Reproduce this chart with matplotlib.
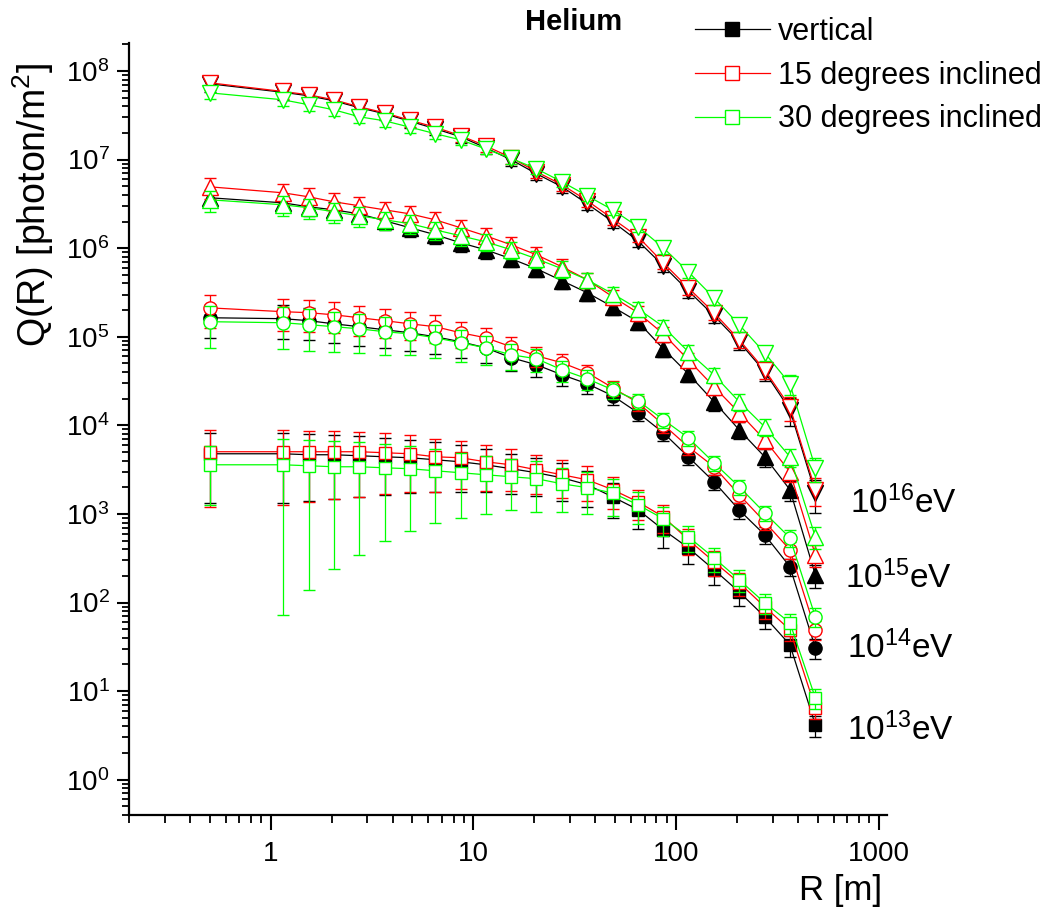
"""Helium: photon density Q(R) vs core distance R for vertical and inclined showers."""

import matplotlib
matplotlib.use("Agg")
import matplotlib.font_manager as fm
import matplotlib.pyplot as plt
from matplotlib.lines import Line2D
from matplotlib.ticker import FixedLocator, LogLocator, NullFormatter

NARROW = "Liberation Sans Narrow"
if NARROW not in {f.name for f in fm.fontManager.ttflist}:
    NARROW = "Liberation Sans"

plt.rcParams["font.family"] = ["Liberation Sans", "DejaVu Sans"]

# core distance R [m]
r_m = [0.5, 1.15, 1.54, 2.05, 2.74, 3.65, 4.87, 6.49, 8.66, 11.5, 15.4, 20.5,
       27.4, 36.5, 48.7, 64.9, 86.6, 115, 154, 205, 274, 365, 487]

# 10^16 eV
q16_vert = [7.17e7, 5.75e7, 5.25e7, 4.61e7, 3.85e7, 3.29e7, 2.71e7, 2.23e7, 1.81e7, 1.36e7, 9.95e6, 6.92e6,
            4.93e6, 3.17e6, 1.99e6, 1.21e6, 6.33e5, 3.31e5, 1.73e5, 8.79e4, 4.03e4, 1.50e4, 1.73e3]
q16_15 = [7.36e7, 5.87e7, 5.39e7, 4.73e7, 3.94e7, 3.37e7, 2.78e7, 2.32e7, 1.86e7, 1.43e7, 1.05e7, 7.28e6,
          5.20e6, 3.43e6, 2.15e6, 1.35e6, 6.84e5, 3.57e5, 1.87e5, 9.25e4, 4.24e4, 1.62e4, 1.88e3]
q16_30 = [5.67e7, 4.73e7, 4.16e7, 3.65e7, 3.04e7, 2.74e7, 2.32e7, 1.96e7, 1.67e7, 1.32e7, 1.03e7, 7.87e6,
          5.61e6, 3.90e6, 2.71e6, 1.75e6, 1.01e6, 5.42e5, 2.75e5, 1.37e5, 6.59e4, 2.95e4, 3.32e3]

# 10^15 eV
q15_vert = [3.71e6, 3.25e6, 2.93e6, 2.71e6, 2.44e6, 2.04e6, 1.70e6, 1.42e6, 1.15e6, 9.59e5, 7.59e5, 5.86e5,
            4.29e5, 3.14e5, 2.18e5, 1.48e5, 7.32e4, 3.82e4, 1.85e4, 8.92e3, 4.42e3, 1.88e3, 206]
q15_15 = [4.93e6, 4.22e6, 3.80e6, 3.34e6, 3.01e6, 2.71e6, 2.44e6, 2.09e6, 1.70e6, 1.38e6, 1.09e6, 8.42e5,
          6.17e5, 4.40e5, 2.83e5, 1.87e5, 1.08e5, 5.50e4, 2.73e4, 1.39e4, 6.88e3, 2.99e3, 347]
q15_30 = [3.52e6, 3.09e6, 2.86e6, 2.58e6, 2.32e6, 2.09e6, 1.89e6, 1.61e6, 1.38e6, 1.18e6, 9.59e5, 7.59e5,
          5.86e5, 4.40e5, 3.06e5, 2.07e5, 1.30e5, 6.78e4, 3.72e4, 1.85e4, 9.64e3, 4.42e3, 553]

# 10^14 eV
q14_vert = [1.64e5, 1.60e5, 1.52e5, 1.40e5, 1.30e5, 1.20e5, 1.11e5, 1.00e5, 8.79e4, 7.51e4, 5.80e4, 4.83e4,
            3.72e4, 2.95e4, 2.16e4, 1.39e4, 8.25e3, 4.42e3, 2.31e3, 1.11e3, 582, 254, 30.9]
q14_15 = [2.12e5, 1.92e5, 1.87e5, 1.77e5, 1.64e5, 1.52e5, 1.40e5, 1.30e5, 1.11e5, 9.75e4, 7.71e4, 6.10e4,
          5.09e4, 3.93e4, 2.66e4, 1.80e4, 1.02e4, 5.73e3, 3.41e3, 1.65e3, 817, 394, 49.3]
q14_30 = [1.48e5, 1.44e5, 1.37e5, 1.30e5, 1.23e5, 1.14e5, 1.08e5, 9.75e4, 8.56e4, 7.51e4, 6.26e4, 5.65e4,
          4.24e4, 3.36e4, 2.52e4, 1.90e4, 1.16e4, 7.25e3, 3.78e3, 2.03e3, 1.03e3, 539, 69.2]

# 10^13 eV
q13_vert = [4.78e3, 4.78e3, 4.66e3, 4.66e3, 4.54e3, 4.42e3, 4.31e3, 4.09e3, 3.88e3, 3.59e3, 3.24e3, 2.92e3,
            2.56e3, 2.14e3, 1.56e3, 1.12e3, 663, 415, 235, 132, 69.2, 33.4, 4.18]
q13_15 = [5.04e3, 5.04e3, 5.04e3, 5.04e3, 5.04e3, 4.91e3, 4.78e3, 4.42e3, 4.31e3, 3.88e3, 3.59e3, 3.15e3,
          2.77e3, 2.43e3, 1.88e3, 1.37e3, 930, 512, 289, 167, 89.7, 49.3, 6.50]
q13_30 = [3.59e3, 3.59e3, 3.50e3, 3.41e3, 3.41e3, 3.32e3, 3.24e3, 3.07e3, 2.92e3, 2.77e3, 2.63e3, 2.50e3,
          2.19e3, 1.98e3, 1.73e3, 1.27e3, 883, 553, 320, 181, 99.5, 59.2, 8.42]

# relative (symmetric) errors, sigma / Q
e16_vert = [0.20, 0.18, 0.18, 0.17, 0.17, 0.16, 0.16, 0.16, 0.15, 0.15, 0.15, 0.15,
            0.15, 0.15, 0.15, 0.15, 0.16, 0.17, 0.18, 0.20, 0.22, 0.35, 0.40]
e16_15 = [0.18, 0.17, 0.17, 0.16, 0.16, 0.15, 0.15, 0.15, 0.14, 0.14, 0.14, 0.14,
          0.14, 0.14, 0.14, 0.14, 0.15, 0.16, 0.17, 0.19, 0.21, 0.30, 0.35]
e16_30 = [0.15, 0.15, 0.15, 0.14, 0.14, 0.14, 0.13, 0.13, 0.13, 0.13, 0.13, 0.13,
          0.13, 0.13, 0.13, 0.13, 0.14, 0.15, 0.16, 0.17, 0.19, 0.25, 0.30]
e15_vert = [0.21, 0.22, 0.22, 0.22, 0.22, 0.22, 0.22, 0.22, 0.21, 0.21, 0.20, 0.20,
            0.20, 0.20, 0.20, 0.20, 0.20, 0.20, 0.21, 0.22, 0.24, 0.26, 0.30]
e15_15 = [0.27, 0.26, 0.26, 0.25, 0.25, 0.24, 0.24, 0.23, 0.23, 0.22, 0.22, 0.21,
          0.21, 0.20, 0.20, 0.20, 0.20, 0.20, 0.20, 0.21, 0.22, 0.24, 0.28]
e15_30 = [0.27, 0.26, 0.26, 0.25, 0.25, 0.24, 0.24, 0.23, 0.23, 0.22, 0.22, 0.21,
          0.21, 0.20, 0.20, 0.20, 0.20, 0.20, 0.20, 0.21, 0.22, 0.24, 0.28]
e14_vert = [0.41, 0.41, 0.40, 0.40, 0.39, 0.38, 0.37, 0.36, 0.34, 0.32, 0.30, 0.28,
            0.26, 0.24, 0.22, 0.20, 0.20, 0.20, 0.20, 0.20, 0.21, 0.22, 0.25]
e14_15 = [0.40, 0.40, 0.39, 0.38, 0.37, 0.36, 0.35, 0.34, 0.32, 0.30, 0.28, 0.26,
          0.24, 0.22, 0.20, 0.19, 0.19, 0.19, 0.19, 0.19, 0.20, 0.21, 0.24]
e14_30 = [0.50, 0.50, 0.49, 0.48, 0.47, 0.45, 0.43, 0.41, 0.39, 0.36, 0.33, 0.30,
          0.27, 0.25, 0.22, 0.20, 0.19, 0.19, 0.19, 0.19, 0.20, 0.21, 0.24]
e13_vert = [0.72, 0.72, 0.70, 0.68, 0.66, 0.63, 0.60, 0.57, 0.54, 0.51, 0.48, 0.46,
            0.45, 0.44, 0.42, 0.40, 0.38, 0.35, 0.33, 0.30, 0.28, 0.27, 0.27]
e13_15 = [0.76, 0.75, 0.73, 0.71, 0.69, 0.66, 0.63, 0.60, 0.56, 0.53, 0.50, 0.47,
          0.45, 0.43, 0.40, 0.37, 0.35, 0.33, 0.31, 0.29, 0.27, 0.26, 0.26]
e13_30 = [0.65, 0.98, 0.96, 0.93, 0.90, 0.85, 0.80, 0.74, 0.69, 0.64, 0.58, 0.58,
          0.52, 0.50, 0.45, 0.40, 0.36, 0.33, 0.30, 0.28, 0.26, 0.25, 0.25]

angle_labels = ["vertical", "15 degrees inclined", "30 degrees inclined"]
energy_labels = ["16", "15", "14", "13"]

COLORS = ["black", "#ff0000", "#00ff00"]
MARKERS = {"16": ("v", 11), "15": ("^", 11), "14": ("o", 9.5), "13": ("s", 8.5)}

series = {
    "16": [(q16_vert, e16_vert), (q16_15, e16_15), (q16_30, e16_30)],
    "15": [(q15_vert, e15_vert), (q15_15, e15_15), (q15_30, e15_30)],
    "14": [(q14_vert, e14_vert), (q14_15, e14_15), (q14_30, e14_30)],
    "13": [(q13_vert, e13_vert), (q13_15, e13_15), (q13_30, e13_30)],
}

W, H = 1044, 913
fig = plt.figure(figsize=(W / 100, H / 100), dpi=100)
ax = fig.add_axes([129 / W, 1 - 815 / H, (887 - 129) / W, (815 - 43) / H])


def fx(px):
    return px / W


def fy(py):
    return 1 - py / H


for i, color in enumerate(COLORS):
    for en in energy_labels:
        q, rel = series[en][i]
        err = [v * e for v, e in zip(q, rel)]
        marker, ms = MARKERS[en]
        face = "black" if i == 0 else "white"
        ax.errorbar(r_m, q, yerr=err, color=color, lw=0.9, elinewidth=0.9,
                    capsize=4.5, capthick=0.9, marker=marker, ms=ms,
                    mfc=face, mec=color, mew=1.0, zorder=3 + i)

ax.set_xscale("log")
ax.set_yscale("log")
ax.set_xlim(0.2, 1100)
ax.set_ylim(0.4, 2.07e8)

for side in ("top", "right"):
    ax.spines[side].set_visible(False)
for side in ("left", "bottom"):
    ax.spines[side].set_linewidth(1.6)

ax.xaxis.set_major_locator(FixedLocator([1, 10, 100, 1000]))
ax.set_xticklabels(["1", "10", "100", "1000"])
ax.xaxis.set_minor_locator(LogLocator(base=10, subs=range(2, 10), numticks=20))
ax.xaxis.set_minor_formatter(NullFormatter())

yt = [10.0 ** k for k in range(0, 9)]
ax.yaxis.set_major_locator(FixedLocator(yt))
ax.set_yticklabels([rf"$\mathregular{{10^{{{k}}}}}$" for k in range(0, 9)])
ax.yaxis.set_minor_locator(LogLocator(base=10, subs=range(2, 10), numticks=20))
ax.yaxis.set_minor_formatter(NullFormatter())

ax.tick_params(axis="x", which="major", direction="out", length=11, width=1.5, pad=8)
ax.tick_params(axis="x", which="minor", direction="out", length=6, width=1.3)
ax.tick_params(axis="y", which="major", direction="out", length=9, width=1.5, pad=5)
ax.tick_params(axis="y", which="minor", direction="out", length=5, width=1.3)
for lab in ax.get_xticklabels() + ax.get_yticklabels():
    lab.set_fontfamily(NARROW)
    lab.set_fontsize(20)

# axis titles
fig.text(fx(33), fy(205), r"Q(R) [photon/m$^\mathregular{2}$]", rotation=90,
         ha="center", va="center", fontsize=27)
fig.text(fx(882), fy(900), "R [m]", ha="right", va="baseline", fontsize=25, family=NARROW)
fig.text(fx(574), fy(22), "Helium", ha="center", va="center", fontsize=21, weight="bold")

# energy labels
for en, (px, py) in zip(energy_labels, [(850, 513), (845, 588), (847, 658), (847, 740)]):
    fig.text(fx(px), fy(py), rf"$\mathregular{{10^{{{en}}}}}$eV", ha="left", va="baseline",
             fontsize=24, family=NARROW)

handles = [Line2D([], [], color=c, lw=0.9, marker="s", ms=10,
                  mfc=("black" if i == 0 else "white"), mec=c, mew=1.0)
           for i, c in enumerate(COLORS)]
fig.legend(handles, angle_labels, loc="upper left", bbox_to_anchor=(fx(695), fy(17)),
           frameon=False, fontsize=22, handlelength=2.45, handletextpad=0.25,
           labelspacing=0.45, borderpad=0, borderaxespad=0)

fig.savefig("out.png", dpi=100)
